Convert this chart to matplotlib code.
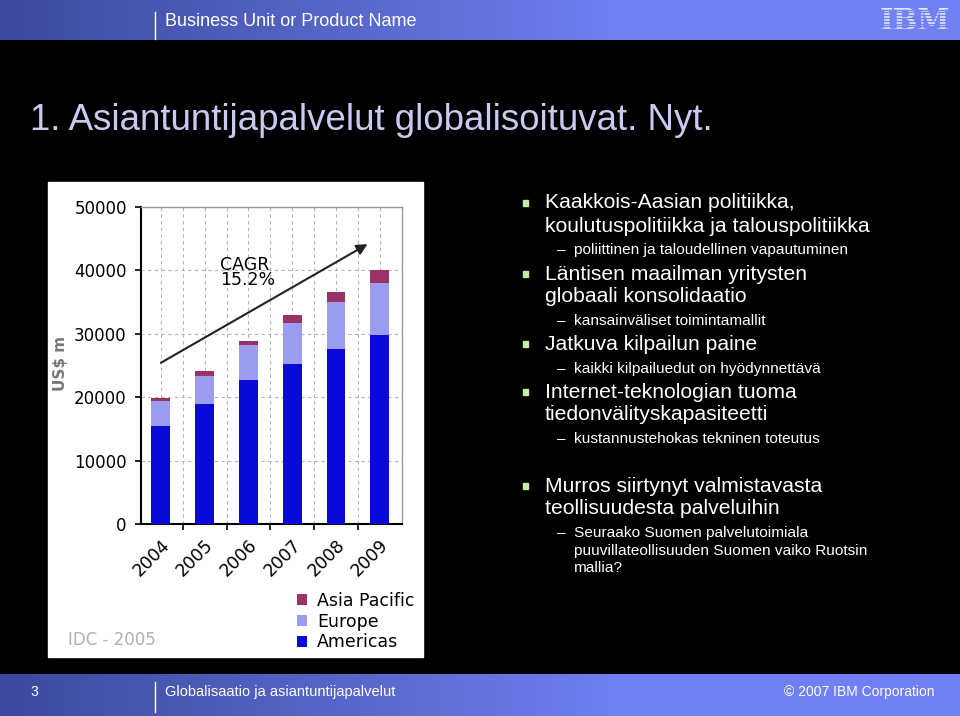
import numpy as np
import matplotlib
matplotlib.use("Agg")
import matplotlib.pyplot as plt
from matplotlib.transforms import ScaledTranslation

# IDC 2005, US$ m
years = ['2004', '2005', '2006', '2007', '2008', '2009']
americas = [15400, 18850, 22650, 25250, 27650, 29800]
europe = [3950, 4500, 5550, 6450, 7350, 8150]
asia_pacific = [450, 750, 700, 1200, 1500, 2000]
y_ticks = [0, 10000, 20000, 30000, 40000, 50000]

title = "1. Asiantuntijapalvelut globalisoituvat. Nyt."
bullets = [
    # (level, text, y)
    (0, "Kaakkois-Aasian politiikka,", 203),
    (None, "koulutuspolitiikka ja talouspolitiikka", 226),
    (1, "poliittinen ja taloudellinen vapautuminen", 250),
    (0, "Läntisen maailman yritysten", 274),
    (None, "globaali konsolidaatio", 297),
    (1, "kansainväliset toimintamallit", 321),
    (0, "Jatkuva kilpailun paine", 344),
    (1, "kaikki kilpailuedut on hyödynnettävä", 369),
    (0, "Internet-teknologian tuoma", 392),
    (None, "tiedonvälityskapasiteetti", 414),
    (1, "kustannustehokas tekninen toteutus", 439),
    (0, "Murros siirtynyt valmistavasta", 486),
    (None, "teollisuudesta palveluihin", 508),
    (1, "Seuraako Suomen palvelutoimiala", 533),
    (2, "puuvillateollisuuden Suomen vaiko Ruotsin", 551),
    (2, "mallia?", 568),
]

W, H = 960, 716
fig = plt.figure(figsize=(9.6, 7.16), dpi=100, facecolor='black')

# slide background in pixel coords
bg = fig.add_axes([0, 0, 1, 1], zorder=0)
bg.set_xlim(0, W)
bg.set_ylim(H, 0)
bg.axis('off')
bg.set_facecolor('black')

xs = np.arange(W)
band = np.zeros((1, W, 3))
for i, (c0, c1) in enumerate([(0.23, 0.44), (0.29, 0.50), (0.62, 0.95)]):
    band[0, :, i] = np.interp(xs, [0, 380, 620, W], [c0, (c0 + c1) / 2 + 0.02, c1, c1])
bg.imshow(band, extent=(0, W, 40, 0), aspect='auto', zorder=1)
bg.imshow(band, extent=(0, W, H, 674), aspect='auto', zorder=1)
bg.set_xlim(0, W)
bg.set_ylim(H, 0)

sans = 'Liberation Sans'
bg.plot([155, 155], [12, 39], color='white', lw=1, zorder=2)
bg.text(165, 22, "Business Unit or Product Name", color='white', fontsize=13,
        family=sans, va='center', ha='left', zorder=3)
bg.text(915, 21, "IBM", color='#e4e8fc', fontsize=21, family='DejaVu Serif',
        fontweight='bold', ha='center', va='center', zorder=3)
for yy in np.arange(9.5, 34, 2.8):
    bg.plot([880, 950], [yy, yy], color='#7282f2', lw=1.0, zorder=4)

bg.plot([155, 155], [682, 712], color='white', lw=1, zorder=2)
bg.text(30, 692, "3", color='white', fontsize=10, family=sans, va='center', zorder=3)
bg.text(165, 692, "Globalisaatio ja asiantuntijapalvelut", color='white', fontsize=10.5,
        family=sans, va='center', zorder=3)
bg.text(935, 692, "© 2007 IBM Corporation", color='white', fontsize=10,
        family=sans, va='center', ha='right', zorder=3)

bg.text(30, 130, title, color='#c9c9f2', fontsize=26.4, family=sans,
        va='baseline', ha='left', zorder=3)

for level, txt, y in bullets:
    if level == 0:
        bg.add_patch(plt.Rectangle((522.5, y - 3), 5.5, 5.5, color='#c4eca4', zorder=3))
        bg.text(545, y, txt, color='white', fontsize=15.2, family=sans, va='center', zorder=3)
    elif level is None:
        bg.text(545, y, txt, color='white', fontsize=15.2, family=sans, va='center', zorder=3)
    elif level == 1:
        bg.text(557, y, "–", color='white', fontsize=11.1, family=sans, va='center', zorder=3)
        bg.text(574, y, txt, color='white', fontsize=11.1, family=sans, va='center', zorder=3)
    else:
        bg.text(574, y, txt, color='white', fontsize=11.1, family=sans, va='center', zorder=3)

# white panel behind chart image
bg.add_patch(plt.Rectangle((48, 182), 375, 475, color='white', zorder=1))

# chart
left, right, top, bottom = 140.7, 401.7, 206.7, 524.0
ax = fig.add_axes([left / W, 1 - bottom / H, (right - left) / W, (bottom - top) / H], zorder=2)
ax.set_facecolor('white')

x = np.arange(len(years))
c_am, c_eu, c_ap = '#0a0ad8', '#9b9bef', '#993366'
bw = 0.43
b1 = ax.bar(x, americas, bw, color=c_am, label='Americas', zorder=3)
b2 = ax.bar(x, europe, bw, bottom=americas, color=c_eu, label='Europe', zorder=3)
bot2 = [a + e for a, e in zip(americas, europe)]
b3 = ax.bar(x, asia_pacific, bw, bottom=bot2, color=c_ap, label='Asia Pacific', zorder=3)

ax.set_xlim(-0.46, 5.5)
ax.set_ylim(0, 50000)
ax.set_yticks(y_ticks)
ax.set_yticklabels([str(v) for v in y_ticks])
ax.set_xticks(x)
ax.set_xticklabels(years, rotation=45, ha='right', va='center', rotation_mode='anchor')
ax.set_xticks(np.arange(0.5, 5.0, 1.0), minor=True)

ax.tick_params(axis='x', which='major', length=0, pad=13.5, labelsize=12.5)
ax.tick_params(axis='x', which='minor', length=4, width=1.2, direction='out')
ax.tick_params(axis='y', length=4, width=1.2, direction='out', pad=6, labelsize=12)
for lab in ax.get_xticklabels():
    lab.set_transform(lab.get_transform() + ScaledTranslation(0.06, 0, fig.dpi_scale_trans))

gkw = dict(color='#b4b4b4', linestyle=(0, (3, 3)), linewidth=0.8)
ax.grid(axis='x', which='both', **gkw)
ax.grid(axis='y', which='major', **gkw)
ax.set_axisbelow(True)

for s in ['left', 'bottom']:
    ax.spines[s].set_color('black')
    ax.spines[s].set_linewidth(1.5)
for s in ['top', 'right']:
    ax.spines[s].set_color('#9a9a9a')
    ax.spines[s].set_linewidth(1.0)

ax.annotate('', xy=(4.72, 44100), xytext=(0.0, 25400),
            arrowprops=dict(arrowstyle='-|>', color='#222222', lw=1.5,
                            mutation_scale=16, shrinkA=0, shrinkB=0), zorder=5)
ax.text(1.36, 42300, "CAGR\n15.2%", fontsize=12.5, va='top', ha='left',
        linespacing=0.85, color='black', zorder=5)

fig.text(60 / W, 1 - 363 / H, "US$ m", rotation=90, color='#777777', fontsize=11,
         fontweight='bold', ha='center', va='center')
fig.text(68 / W, 1 - 640 / H, "IDC - 2005", color='#b0b0b0', fontsize=12,
         ha='left', va='center')

fig.legend(handles=[b3, b2, b1], loc='upper left', bbox_to_anchor=(297 / W, 1 - 592 / H),
           frameon=False, fontsize=12.5, handlelength=0.6, handleheight=0.6,
           handletextpad=0.55, labelspacing=0.15, borderpad=0, borderaxespad=0)

fig.savefig('out.png', dpi=100, facecolor='black')
